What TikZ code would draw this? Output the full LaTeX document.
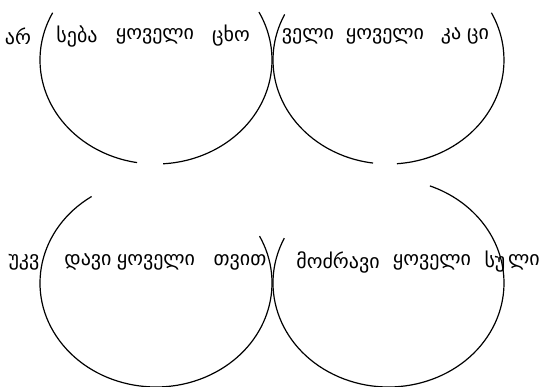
\documentclass[tikz,border=0pt]{standalone}
\usepackage{fontspec}
\newfontfamily\geofont{DejaVu Sans}
\tikzset{
  ring/.style={line width=1.2pt},
  word/.style={font=\geofont\fontsize{20}{24}\selectfont, inner sep=0pt}
}
\begin{document}
\begin{tikzpicture}[x=1pt,y=-1pt]
				\useasboundingbox (0,0) rectangle (542,387);
				\coordinate (TL) at (156,60);
				\coordinate (TR) at (388.5,60);
				\coordinate (BL) at (156,283);
				\coordinate (BR) at (388.5,283);
				% top row
				\draw[ring] ([shift={(-153:116 and 104)}]TL) arc[start angle=-153, end angle=-260.6, x radius=116, y radius=104];
				\draw[ring] ([shift={(-273.5:116 and 104)}]TL) arc[start angle=-273.5, end angle=-387.4, x radius=116, y radius=104];
				\draw[ring] ([shift={(-154:115.5 and 104)}]TR) arc[start angle=-154, end angle=-262.3, x radius=115.5, y radius=104];
				\draw[ring] ([shift={(-274.2:115.5 and 104)}]TR) arc[start angle=-274.2, end angle=-387, x radius=115.5, y radius=104];
				% bottom row
				\draw[ring] ([shift={(-123.7:116 and 104)}]BL) arc[start angle=-123.7, end angle=-386.8, x radius=116, y radius=104];
				\draw[ring] ([shift={(-154.5:115.5 and 104)}]BR) arc[start angle=-154.5, end angle=-429, x radius=115.5, y radius=104];
				% words
				\node[word] (a1) at (18,36) {არ};
				\node[word] (a2) at (77,36) {სება};
				\node[word] (a3) at (155,36) {ყოველი};
				\node[word] (a4) at (231,36) {ცხო};
				\node[word] (a5) at (308,36) {ველი};
				\node[word] (a6) at (385,36) {ყოველი};
				\node[word] (a7) at (451,36) {კა};
				\node[word] (a8) at (478,36) {ცი};
				\node[word] (b1) at (24,262) {უკვ};
				\node[word] (b2) at (88,262) {დავი};
				\node[word] (b3) at (156,262) {ყოველი};
				\node[word] (b4) at (240,262) {თვით};
				\node[word] (b5) at (338,262) {მოძრავი};
				\node[word] (b6) at (432,262) {ყოველი};
				\node[word] (b7) at (495,262) {სუ};
				\node[word] (b8) at (524,262) {ლი};
			\end{tikzpicture}
\end{document}
